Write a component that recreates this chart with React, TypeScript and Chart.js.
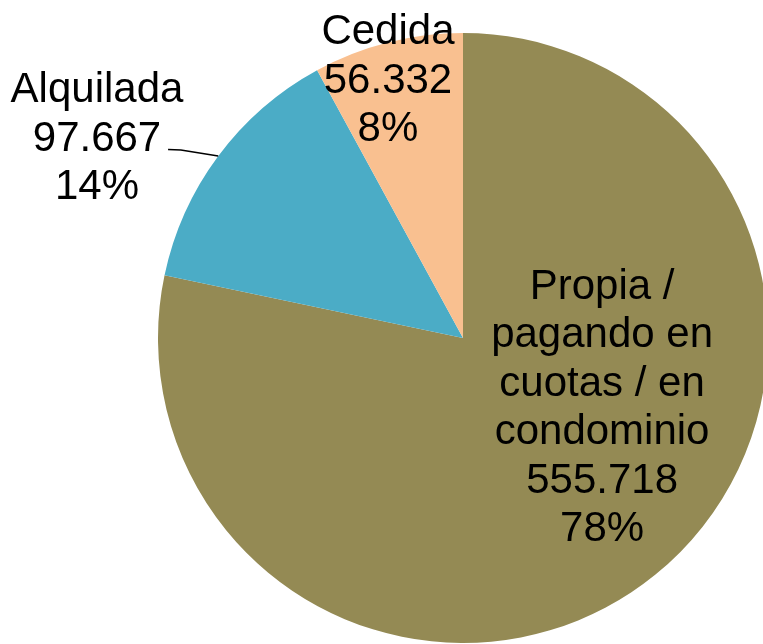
import React, { useEffect, useRef } from "react";
import { Chart, registerables } from "chart.js";

Chart.register(...registerables);

const categories = ["Propia / pagando en cuotas / en condominio", "Alquilada", "Cedida"];
const labelLines = [["Propia /", "pagando en", "cuotas / en", "condominio"], ["Alquilada"], ["Cedida"]];
const values = [555718, 97667, 56332];
const colors = ["#948A54", "#4BACC6", "#F9C090"];

// label block centre, as fractions of the radius from the pie centre
const labelAnchors = [
  [0.456, 0.22],
  [-1.2, -0.663],
  [-0.246, -0.854],
];

const fmt = (v: number) => v.toLocaleString("de-DE");

const labelPlugin = {
  id: "pieLabels",
  afterDraw(chart: any) {
    const ctx = chart.ctx;
    const meta = chart.getDatasetMeta(0);
    const total = values.reduce((a, b) => a + b, 0);
    const arc0 = meta.data[0];
    const cx = arc0.x;
    const cy = arc0.y;
    const r = arc0.outerRadius;
    ctx.save();
    ctx.fillStyle = "#000";
    ctx.font = '42px "Liberation Sans", Arial, sans-serif';
    ctx.textAlign = "center";
    ctx.textBaseline = "alphabetic";
    const lh = 48.5;
    values.forEach((v, i) => {
      const lines = [...labelLines[i], fmt(v), Math.round((v / total) * 100) + "%"];
      const ax = cx + labelAnchors[i][0] * r;
      const ay = cy + labelAnchors[i][1] * r;
      const n = lines.length;
      lines.forEach((t, j) => {
        const capMid = ay + (j - (n - 1) / 2) * lh;
        ctx.fillText(t, ax, capMid + 15);
      });
    });
    // leader line for Alquilada
    const endAng = Math.atan2(-0.597, -0.803);
    const ex = cx + Math.cos(endAng) * r;
    const ey = cy + Math.sin(endAng) * r;
    ctx.strokeStyle = "#000";
    ctx.lineWidth = 1.5;
    ctx.beginPath();
    ctx.moveTo(cx - 0.967 * r, cy - 0.618 * r);
    ctx.lineTo(cx - 0.925 * r, cy - 0.616 * r);
    ctx.lineTo(ex, ey);
    ctx.stroke();
    ctx.restore();
  },
};

export default function App() {
  const ref = useRef<HTMLCanvasElement>(null);
  useEffect(() => {
    if (!ref.current) return;
    const chart = new Chart(ref.current, {
      type: "pie",
      data: {
        labels: categories,
        datasets: [
          {
            data: values,
            backgroundColor: colors,
            borderWidth: 0,
          },
        ],
      },
      options: {
        responsive: false,
        animation: false,
        devicePixelRatio: 1,
        layout: { padding: { left: 158, top: 33, right: 32, bottom: 1 } },
        plugins: { legend: { display: false }, tooltip: { enabled: false } },
      },
      plugins: [labelPlugin],
    });
    return () => chart.destroy();
  }, []);
  return (
    <div
      style={{
        position: "absolute",
        left: 0,
        top: 0,
        width: 763,
        height: 644,
        overflow: "hidden",
        background: "#fff",
      }}
    >
      <canvas ref={ref} width={800} height={644} style={{ display: "block" }} />
    </div>
  );
}
